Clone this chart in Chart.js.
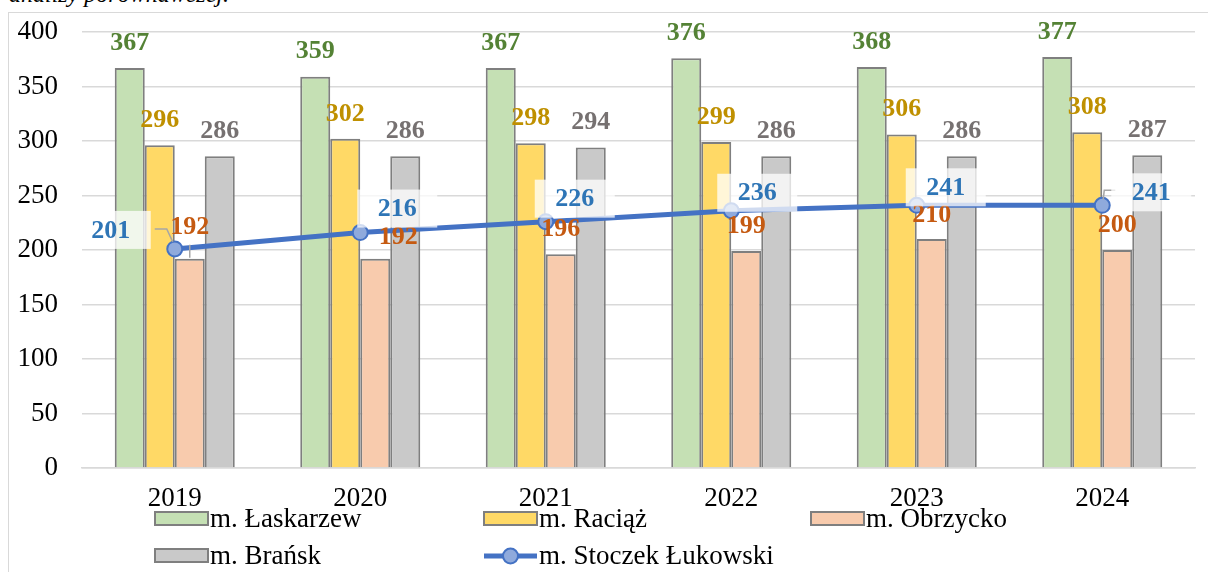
<!DOCTYPE html>
<html>
<head>
<meta charset="utf-8">
<script src="https://cdn.jsdelivr.net/npm/chart.js@4.4.1/dist/chart.umd.min.js"></script>
<style>
  html, body { margin: 0; padding: 0; background: #fff; overflow: hidden; }
  #wrap { position: relative; width: 1208px; height: 572px; overflow: hidden; }
  #frame { position: absolute; left: 8px; top: 12px; width: 1300px; height: 700px; border: 1px solid #d9d9d9; box-sizing: border-box; }
  #caption { position: absolute; left: 9px; top: -18px; font: italic 24px 'Liberation Serif', serif; line-height: 24px; white-space: nowrap; }
  #myChart { position: absolute; left: 0; top: 0; }
</style>
</head>
<body>
<div id="wrap">
  <div id="caption">analizy porównawczej.</div>
  <div id="frame"></div>
  <canvas id="myChart" width="1208" height="572"></canvas>
</div>
<script>
const FONT = "'Liberation Serif', 'Times New Roman', serif"

const years = ['2019', '2020', '2021', '2022', '2023', '2024']
const laskarzew = [367, 359, 367, 376, 368, 377]
const raciaz = [296, 302, 298, 299, 306, 308]
const obrzycko = [192, 192, 196, 199, 210, 200]
const bransk = [286, 286, 294, 286, 286, 287]
const stoczek = [201, 216, 226, 236, 241, 241]
const yMax = 400
const yStep = 50

// label nudges in px from the bar top / point (default sits above the bar)
const peachShift = [[0, -32], [23, -22], [0, -26], [0, -26], [0, -25], [0, -26]]
const lineShift = [[-64, -19], [37, -24], [29, -23], [26, -18], [29, -18], [49, -13]]

// value labels, white boxes under the line labels and the leader lines
const valueLabels = {
    id: 'valueLabels',
    afterDatasetsDraw(chart) {
        const ctx = chart.ctx
        ctx.save()
        ctx.font = `bold 26px ${FONT}`
        ctx.textAlign = 'center'
        ctx.textBaseline = 'middle'

        // leader lines
        ctx.strokeStyle = '#a6a6a6'
        ctx.lineWidth = 1.5
        const p0 = chart.getDatasetMeta(4).data[0]
        ctx.beginPath()
        ctx.moveTo(p0.x - 20, p0.y - 20)
        ctx.lineTo(p0.x - 8, p0.y - 20)
        ctx.lineTo(p0.x - 2, p0.y - 7)
        ctx.stroke()
        const p5 = chart.getDatasetMeta(4).data[5]
        ctx.beginPath()
        ctx.moveTo(p5.x + 1, p5.y - 6)
        ctx.lineTo(p5.x + 2, p5.y - 15)
        ctx.lineTo(p5.x + 13, p5.y - 15)
        ctx.stroke()
        const b0 = chart.getDatasetMeta(2).data[0]
        ctx.beginPath()
        ctx.moveTo(b0.x, b0.y - 14)
        ctx.lineTo(b0.x, b0.y - 1)
        ctx.stroke()

        chart.data.datasets.forEach((ds, i) => {
            const meta = chart.getDatasetMeta(i)
            meta.data.forEach((el, j) => {
                let shift = [0, -26]
                if (i === 2) shift = peachShift[j]
                if (i === 4) shift = lineShift[j]
                const x = el.x + shift[0]
                const y = el.y + shift[1]
                if (i === 4) {
                    ctx.fillStyle = 'rgba(255,255,255,0.75)'
                    ctx.fillRect(x - 40, y - 19, 80, 38)
                }
                ctx.fillStyle = ds.labelColor
                ctx.fillText(ds.data[j], x, y + 1)
            })
        })
        ctx.restore()
    }
}

// legend laid out in fixed columns under the axis
const gridLegend = {
    id: 'gridLegend',
    afterDraw(chart) {
        const ctx = chart.ctx
        const colX = [155, 484, 811]
        const rowY = [519, 556]
        ctx.save()
        ctx.font = `27px ${FONT}`
        ctx.textBaseline = 'middle'
        ctx.textAlign = 'left'
        chart.data.datasets.forEach((ds, i) => {
            const x = colX[i % 3]
            const y = rowY[Math.floor(i / 3)]
            if (ds.type === 'line') {
                ctx.strokeStyle = ds.borderColor
                ctx.lineWidth = ds.borderWidth
                ctx.beginPath()
                ctx.moveTo(x, y)
                ctx.lineTo(x + 53, y)
                ctx.stroke()
                ctx.beginPath()
                ctx.arc(x + 26.5, y, ds.pointRadius, 0, Math.PI * 2)
                ctx.fillStyle = ds.pointBackgroundColor
                ctx.fill()
                ctx.lineWidth = ds.pointBorderWidth
                ctx.strokeStyle = ds.pointBorderColor
                ctx.stroke()
            } else {
                ctx.fillStyle = ds.backgroundColor
                ctx.fillRect(x, y - 7, 53, 13)
                ctx.strokeStyle = ds.borderColor
                ctx.lineWidth = 2
                ctx.strokeRect(x, y - 7, 53, 13)
            }
            ctx.fillStyle = '#000'
            ctx.fillText(ds.label, x + 55, y + 1)
        })
        ctx.restore()
    }
}

function barSet(label, data, fill, labelColor) {
    return {
        type: 'bar',
        label,
        data,
        backgroundColor: fill,
        borderColor: '#7F7F7F',
        borderWidth: 2,
        labelColor,
        order: 1
    }
}

const ctx = document.getElementById('myChart')
new Chart(ctx, {
    data: {
        labels: years,
        datasets: [
            barSet('m. Łaskarzew', laskarzew, '#C5E0B4', '#548235'),
            barSet('m. Raciąż', raciaz, '#FFD966', '#BF9000'),
            barSet('m. Obrzycko', obrzycko, '#F8CBAD', '#C55A11'),
            barSet('m. Brańsk', bransk, '#C9C9C9', '#767171'),
            {
                type: 'line',
                label: 'm. Stoczek Łukowski',
                data: stoczek,
                borderColor: '#4472C4',
                borderWidth: 5,
                pointRadius: 7.5,
                pointBackgroundColor: '#8FAADC',
                pointBorderColor: '#4472C4',
                pointBorderWidth: 2,
                labelColor: '#2E75B6',
                order: 0
            }
        ]
    },
    options: {
        responsive: false,
        animation: false,
        layout: { padding: { left: 0, top: 32, right: 13, bottom: 0 } },
        datasets: {
            bar: { categoryPercentage: 0.647, barPercentage: 1 }
        },
        scales: {
            x: {
                ticks: { color: '#000', font: { family: FONT, size: 27 }, padding: 15 },
                grid: { display: false, drawTicks: false },
                border: { color: '#d9d9d9', width: 1.5 },
                afterFit(scale) {
                    scale.height = 104
                    scale.paddingLeft = 0
                    scale.paddingRight = 0
                }
            },
            y: {
                min: 0,
                max: yMax,
                ticks: { stepSize: yStep, color: '#000', font: { family: FONT, size: 27 }, padding: 24 },
                grid: { color: '#d9d9d9', lineWidth: 1.5, drawTicks: false },
                border: { display: false },
                afterFit(scale) {
                    scale.width = 82
                    scale.paddingTop = 0
                    scale.paddingBottom = 0
                }
            }
        },
        plugins: {
            legend: { display: false },
            tooltip: { enabled: false }
        }
    },
    plugins: [valueLabels, gridLegend]
})
</script>
</body>
</html>
